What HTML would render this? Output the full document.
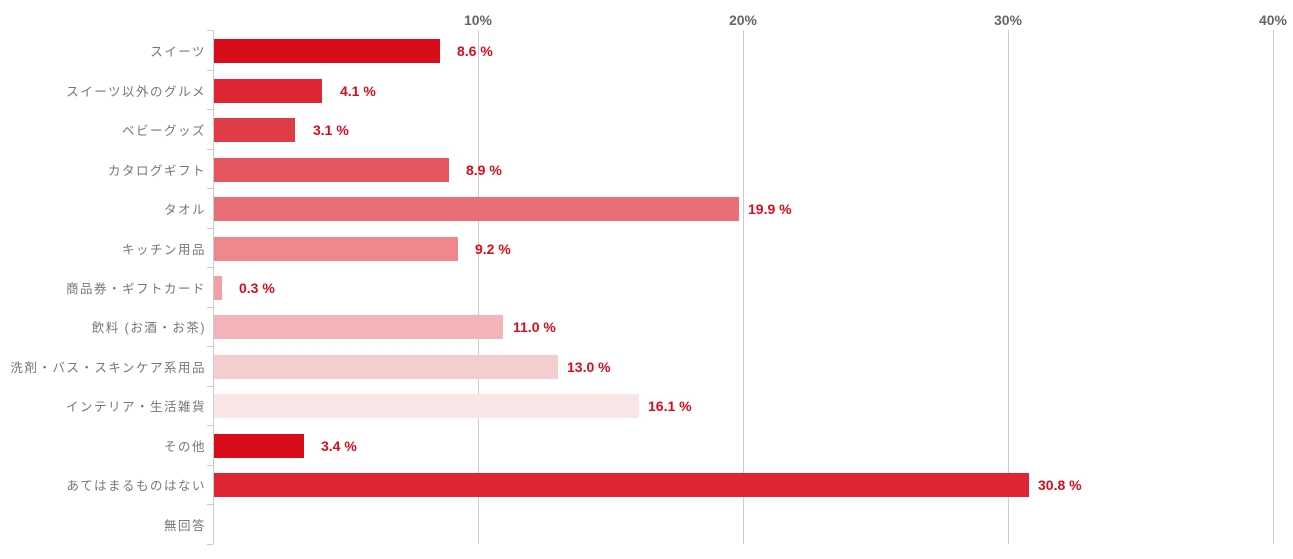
<!DOCTYPE html>
<html><head><meta charset="utf-8"><style>
html,body{margin:0;padding:0;background:#fff;}
svg{display:block}
.c{font-family:"Liberation Sans","Noto Sans CJK JP",sans-serif;font-size:12.5px;fill:#777;letter-spacing:1.5px}
.v{font-family:"Liberation Sans",sans-serif;font-size:14px;font-weight:bold;fill:#d90d1a}
.t{font-family:"Liberation Sans",sans-serif;font-size:14px;font-weight:bold;fill:#666}
</style></head><body>
<svg width="1293" height="559" xmlns="http://www.w3.org/2000/svg">
<g stroke="#ccc" stroke-width="1">
<line x1="478.5" y1="30" x2="478.5" y2="544"/>
<line x1="743.5" y1="30" x2="743.5" y2="544"/>
<line x1="1008.5" y1="30" x2="1008.5" y2="544"/>
<line x1="1273.5" y1="30" x2="1273.5" y2="544"/>
<line x1="213.5" y1="30" x2="213.5" y2="544"/>
<line x1="207" y1="30.5" x2="213" y2="30.5"/>
<line x1="207" y1="70.5" x2="213" y2="70.5"/>
<line x1="207" y1="109.5" x2="213" y2="109.5"/>
<line x1="207" y1="149.5" x2="213" y2="149.5"/>
<line x1="207" y1="188.5" x2="213" y2="188.5"/>
<line x1="207" y1="228.5" x2="213" y2="228.5"/>
<line x1="207" y1="267.5" x2="213" y2="267.5"/>
<line x1="207" y1="307.5" x2="213" y2="307.5"/>
<line x1="207" y1="346.5" x2="213" y2="346.5"/>
<line x1="207" y1="386.5" x2="213" y2="386.5"/>
<line x1="207" y1="425.5" x2="213" y2="425.5"/>
<line x1="207" y1="465.5" x2="213" y2="465.5"/>
<line x1="207" y1="504.5" x2="213" y2="504.5"/>
<line x1="207" y1="544.5" x2="213" y2="544.5"/>
</g>
<text class="t" x="478" y="25" text-anchor="middle">10%</text>
<text class="t" x="743" y="25" text-anchor="middle">20%</text>
<text class="t" x="1008" y="25" text-anchor="middle">30%</text>
<text class="t" x="1273" y="25" text-anchor="middle">40%</text>

<rect x="214" y="39" width="226" height="24" fill="#d90d1a"/>
<rect x="214" y="79" width="108" height="24" fill="#dd2533"/>
<rect x="214" y="118" width="81" height="24" fill="#e03c48"/>
<rect x="214" y="158" width="235" height="24" fill="#e5565f"/>
<rect x="214" y="197" width="525" height="24" fill="#ea6e75"/>
<rect x="214" y="237" width="244" height="24" fill="#ee888d"/>
<rect x="214" y="276" width="8" height="24" fill="#f2a1a5"/>
<rect x="214" y="315" width="289" height="24" fill="#f2b4b8"/>
<rect x="214" y="355" width="344" height="24" fill="#f5cccf"/>
<rect x="214" y="394" width="425" height="24" fill="#f9e6e7"/>
<rect x="214" y="434" width="90" height="24" fill="#d90d1a"/>
<rect x="214" y="473" width="815" height="24" fill="#dd2533"/>

<text class="v" x="457" y="56">8.6 %</text>
<text class="v" x="340" y="96">4.1 %</text>
<text class="v" x="313" y="135">3.1 %</text>
<text class="v" x="466" y="175">8.9 %</text>
<text class="v" x="748" y="214">19.9 %</text>
<text class="v" x="475" y="254">9.2 %</text>
<text class="v" x="239" y="293">0.3 %</text>
<text class="v" x="513" y="332">11.0 %</text>
<text class="v" x="567" y="372">13.0 %</text>
<text class="v" x="648" y="411">16.1 %</text>
<text class="v" x="321" y="451">3.4 %</text>
<text class="v" x="1038" y="490">30.8 %</text>

<g class="c" text-anchor="end">
<text x="206" y="56">スイーツ</text>
<text x="206" y="96">スイーツ以外のグルメ</text>
<text x="206" y="135">ベビーグッズ</text>
<text x="206" y="175">カタログギフト</text>
<text x="206" y="214">タオル</text>
<text x="206" y="254">キッチン用品</text>
<text x="206" y="293">商品券・ギフトカード</text>
<text x="206" y="332">飲料 (お酒・お茶)</text>
<text x="206" y="372">洗剤・バス・スキンケア系用品</text>
<text x="206" y="411">インテリア・生活雑貨</text>
<text x="206" y="451">その他</text>
<text x="206" y="490">あてはまるものはない</text>
<text x="206" y="530">無回答</text>
</g>
</svg>
</body></html>
